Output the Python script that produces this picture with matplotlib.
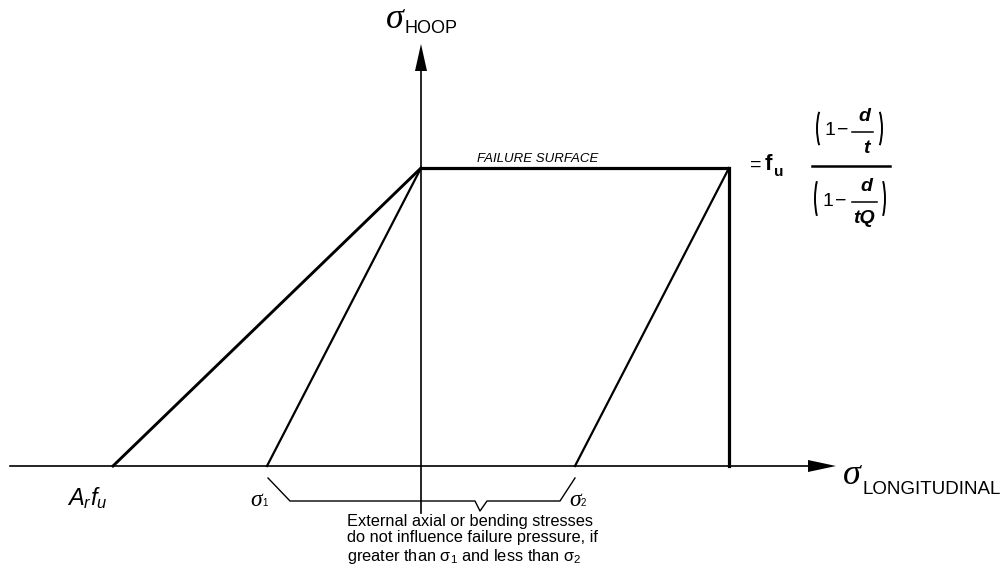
import matplotlib
matplotlib.use("Agg")
import matplotlib.pyplot as plt
from matplotlib.patches import Arc, Polygon

plt.rcParams['font.family'] = ['Liberation Sans', 'DejaVu Sans']
plt.rcParams['mathtext.fontset'] = 'custom'
plt.rcParams['mathtext.rm'] = 'Liberation Sans'
plt.rcParams['mathtext.it'] = 'Liberation Sans:italic'
plt.rcParams['mathtext.bf'] = 'Liberation Sans:bold'

# ---- data (diagram units: origin at axes crossing) ----
x_ar_fu = -308      # A_r f_u intercept on longitudinal axis
x_sigma1 = -154     # sigma_1
x_sigma2 = 154      # sigma_2
x_fu_max = 308      # right edge of failure surface
y_failure = 298     # hoop failure level
surface_x = [0, x_fu_max, x_fu_max]
surface_y = [y_failure, y_failure, 0]
outer_x = [x_ar_fu, 0]
outer_y = [0, y_failure]
inner1_x = [x_sigma1, 0]
inner1_y = [0, y_failure]
inner2_x = [x_sigma2, x_fu_max]
inner2_y = [0, y_failure]

W, H = 1001, 572
OX, OY = 421, 466   # pixel location of origin

fig = plt.figure(figsize=(W / 100, H / 100), dpi=100)
ax = fig.add_axes([0, 0, 1, 1])
ax.set_xlim(-OX, W - OX)
ax.set_ylim(OY - H, OY)
ax.axis('off')

def P(px, py):
    return px - OX, OY - py

SIG = dict(family=['Liberation Serif', 'DejaVu Serif'], style='italic')

# axes
ax.plot([P(10, 0)[0], P(812, 0)[0]], [0, 0], color='black', lw=1.2)
ax.plot([0, 0], [P(0, 513)[1], P(0, 68)[1]], color='black', lw=1.2)
ax.add_patch(Polygon([P(808, 460), P(836, 466), P(808, 472)], closed=True,
                     color='black', lw=0))
ax.add_patch(Polygon([P(415, 71), P(421, 44), P(427, 71)], closed=True,
                     color='black', lw=0))

# failure envelope
ax.plot(surface_x, surface_y, color='black', lw=2.3, solid_joinstyle='miter')
ax.plot(outer_x, outer_y, color='black', lw=2.1)
ax.plot(inner1_x, inner1_y, color='black', lw=1.6)
ax.plot(inner2_x, inner2_y, color='black', lw=1.6)

# brace
bx = [x_sigma1 + 1, x_sigma1 + 23, 54, 59, 66, x_sigma2 - 15, x_sigma2]
by = [-12, -35, -35, -45, -35, -35, -12]
ax.plot(bx, by, color='black', lw=1.0)

# axis labels
ax.text(*P(386, 28), '\u03c3', fontsize=26, ha='left', va='baseline', **SIG)
ax.text(*P(404, 33), 'HOOP', fontsize=13, ha='left', va='baseline')
ax.text(*P(843, 484), '\u03c3', fontsize=26, ha='left', va='baseline', **SIG)
ax.text(*P(862, 494), 'LONGITUDINAL', fontsize=13.5, ha='left', va='baseline')

ax.text(*P(477, 162), 'FAILURE SURFACE', fontsize=9.5, style='italic',
        ha='left', va='baseline')

ax.text(*P(67, 505), r'$A_{r}f_{u}$', fontsize=17, ha='left', va='baseline')
ax.text(*P(250, 506), '\u03c3', fontsize=17, ha='left', va='baseline', **SIG)
ax.text(*P(262, 506), '1', fontsize=7, ha='left', va='baseline')
ax.text(*P(569, 506), '\u03c3', fontsize=17, ha='left', va='baseline', **SIG)
ax.text(*P(581, 506), '2', fontsize=7, ha='left', va='baseline')

cap = ("External axial or bending stresses\n"
       "do not influence failure pressure, if\n"
       "greater than $\\mathregular{\\sigma_{1}}$ and less than $\\mathregular{\\sigma_{2}}$")
ax.text(*P(347, 514), cap, fontsize=11.8, ha='left', va='top', linespacing=1.1)

# "= f_u" and fraction
ax.text(*P(750, 170), '=', fontsize=14, ha='left', va='baseline')
ax.text(*P(765, 170), 'f', fontsize=16, weight='bold', ha='left', va='baseline')
ax.text(*P(774, 176), 'u', fontsize=11, weight='bold', ha='left', va='baseline')

ax.plot([P(812, 0)[0], P(890, 0)[0]], [P(0, 166)[1]] * 2, color='black', lw=1.8)

def paren(xc, ytop, ybot, left=True):
    h = ybot - ytop
    cx, cy = P(xc, (ytop + ybot) / 2)
    if left:
        ax.add_patch(Arc((cx + 10, cy), 20, h, theta1=115, theta2=245,
                         color='black', lw=1.4))
    else:
        ax.add_patch(Arc((cx - 10, cy), 20, h, theta1=-65, theta2=65,
                         color='black', lw=1.4))

FR = dict(fontsize=14, weight='bold', style='italic', va='baseline')
# numerator
paren(817, 102, 155, True)
paren(882, 102, 155, False)
ax.text(*P(825, 135), '1', fontsize=14, ha='left', va='baseline')
ax.text(*P(837, 135), '\u2212', fontsize=14, ha='left', va='baseline')
ax.plot([P(852, 0)[0], P(873, 0)[0]], [P(0, 132)[1]] * 2, color='black', lw=1.1)
ax.text(*P(864, 121), 'd', ha='center', **FR)
ax.text(*P(866, 153), 't', ha='center', **FR)

# denominator
paren(815, 169, 228, True)
paren(885, 169, 228, False)
ax.text(*P(822, 206), '1', fontsize=14, ha='left', va='baseline')
ax.text(*P(835, 206), '\u2212', fontsize=14, ha='left', va='baseline')
ax.plot([P(852, 0)[0], P(877, 0)[0]], [P(0, 202)[1]] * 2, color='black', lw=1.1)
ax.text(*P(866, 191), 'd', ha='center', **FR)
ax.text(*P(864, 223), 'tQ', ha='center', **FR)

fig.savefig('out.png', dpi=100, facecolor='white')
